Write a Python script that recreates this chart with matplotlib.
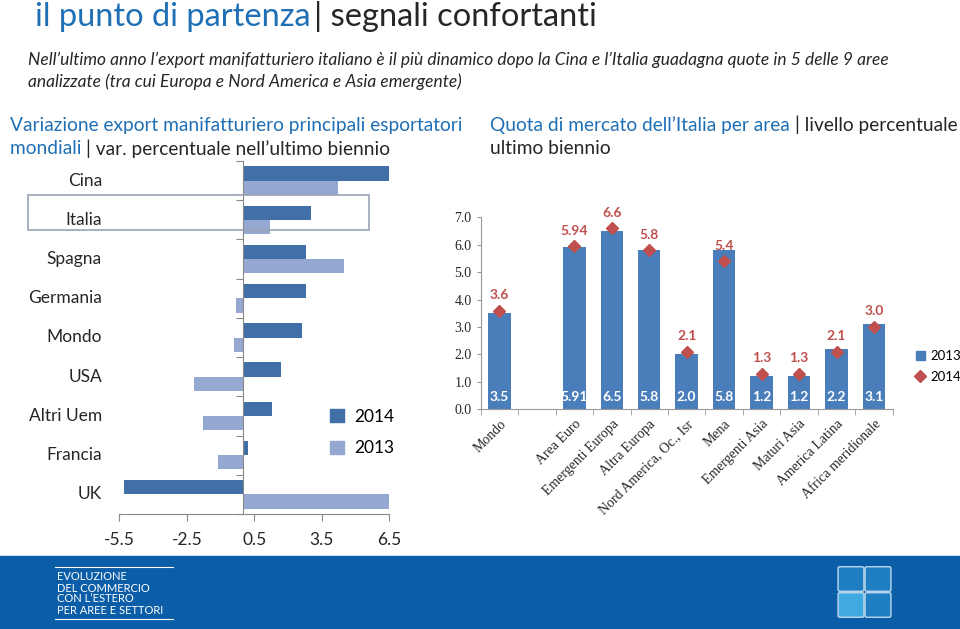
import numpy as np
import matplotlib.pyplot as plt
import matplotlib.patches as patches
from matplotlib.lines import Line2D

# Left chart: variazione export (%)
paesi = ['Cina', 'Italia', 'Spagna', 'Germania', 'Mondo', 'USA', 'Altri Uem', 'Francia', 'UK']
var_2014 = [6.5, 3.0, 2.8, 2.8, 2.6, 1.7, 1.3, 0.2, -5.3]
var_2013 = [4.2, 1.2, 4.5, -0.3, -0.4, -2.2, -1.8, -1.1, 6.5]
x_ticks_left = [-5.5, -2.5, 0.5, 3.5, 6.5]

# Right chart: quota di mercato (%)
aree = ['Mondo', '', 'Area Euro', 'Emergenti Europa', 'Altra Europa',
        'Nord America, Oc., Isr', 'Mena', 'Emergenti Asia', 'Maturi Asia',
        'America Latina', 'Africa meridionale']
quota_2013 = [3.5, None, 5.91, 6.5, 5.8, 2.0, 5.8, 1.2, 1.2, 2.2, 3.1]
quota_2014 = [3.6, None, 5.94, 6.6, 5.8, 2.1, 5.4, 1.3, 1.3, 2.1, 3.0]
lab_2013 = ['3.5', '', '5.91', '6.5', '5.8', '2.0', '5.8', '1.2', '1.2', '2.2', '3.1']
lab_2014 = ['3.6', '', '5.94', '6.6', '5.8', '2.1', '5.4', '1.3', '1.3', '2.1', '3.0']

BLUE_T = '#1F6FB5'
DARK = '#262626'
C14 = '#4170A8'
C13 = '#95A8D2'
RED = '#C0504D'
BAR_R = '#4A7EBB'

plt.rcParams['font.family'] = ['Lato', 'DejaVu Sans']

W, H = 960, 629
fig = plt.figure(figsize=(9.6, 6.29), dpi=100)


def fx(px):
    return px / W


def fy(py):
    return 1 - py / H


# header
t1 = fig.text(fx(35), fy(17), 'il punto di partenza', color=BLUE_T, fontsize=23.5, va='center')
fig.canvas.draw()
bb = t1.get_window_extent()
fig.text(bb.x1 / W + 0.004, fy(17), '| segnali confortanti', color=DARK, fontsize=23.5, va='center')

fig.text(fx(28), fy(60), "Nell\u2019ultimo anno l\u2019export manifatturiero italiano \u00e8 il pi\u00f9 dinamico dopo la Cina e "
         "l\u2019Italia guadagna quote in 5 delle 9 aree", fontsize=12.5, style='italic', color=DARK, va='center')
fig.text(fx(28), fy(82), "analizzate (tra cui Europa e Nord America e Asia emergente)",
         fontsize=12.5, style='italic', color=DARK, va='center')

fig.text(fx(10), fy(125), 'Variazione export manifatturiero principali esportatori',
         color=BLUE_T, fontsize=13.8, va='center')
t2 = fig.text(fx(10), fy(149), 'mondiali ', color=BLUE_T, fontsize=13.8, va='center')
fig.canvas.draw()
bb = t2.get_window_extent()
fig.text(bb.x1 / W, fy(149), "| var. percentuale nell\u2019ultimo biennio", color=DARK, fontsize=13.8, va='center')

t3 = fig.text(fx(490), fy(125), "Quota di mercato dell\u2019Italia per area ", color=BLUE_T, fontsize=13.8, va='center')
fig.canvas.draw()
bb = t3.get_window_extent()
fig.text(bb.x1 / W, fy(125), '| livello percentuale', color=DARK, fontsize=13.8, va='center')
fig.text(fx(490), fy(149), 'ultimo biennio', color=DARK, fontsize=13.8, va='center')

# ---- left chart
axl = fig.add_axes([fx(119.3), fy(514), fx(270), (514 - 161) / H])
y = np.arange(len(paesi))
bh = 0.365
axl.barh(y - bh / 2, var_2014, height=bh, color=C14, label='2014')
axl.barh(y + bh / 2, var_2013, height=bh, color=C13, label='2013')
axl.set_ylim(len(paesi) - 0.5, -0.5)
axl.set_xlim(-5.5, 6.5)
axl.set_xticks(x_ticks_left)
axl.set_xticklabels(['%.1f' % v for v in x_ticks_left], fontsize=12.5, color=DARK)
axl.tick_params(axis='x', length=5, color='#888888', pad=8)
axl.set_yticks(np.arange(len(paesi) + 1) - 0.5)
axl.set_yticklabels([])
axl.tick_params(axis='y', length=5, color='#888888', direction='out')
axl.spines['left'].set_position(('data', 0))
for s in ['top', 'right']:
    axl.spines[s].set_visible(False)
for s in ['left', 'bottom']:
    axl.spines[s].set_color('#888888')
for i, p in enumerate(paesi):
    axl.text(-0.064, i, p, transform=axl.get_yaxis_transform(), ha='right', va='center',
             fontsize=12.5, color=DARK)

# highlight Italia
fig.patches.append(patches.Rectangle((fx(28), fy(230)), fx(341), (230 - 195) / H,
                                     transform=fig.transFigure, fill=False,
                                     edgecolor='#9AA3B5', linewidth=1.2))

hl = [patches.Patch(color=C14), patches.Patch(color=C13)]
fig.legend(hl, ['2014', '2013'], loc='upper left', bbox_to_anchor=(fx(314), fy(393)),
           frameon=False, fontsize=12.5, handlelength=0.8, handleheight=0.8,
           labelspacing=0.9, handletextpad=0.6)

# ---- right chart
axr = fig.add_axes([fx(480.7), fy(409.3), fx(412), 192 / H])
xr = np.arange(len(aree))
idx = [i for i, v in enumerate(quota_2013) if v is not None]
axr.bar([xr[i] for i in idx], [quota_2013[i] for i in idx], width=0.6, color=BAR_R, zorder=2)
axr.plot([xr[i] for i in idx], [quota_2014[i] for i in idx], linestyle='none', marker='D',
         markersize=6.5, color=RED, zorder=3)
for i in idx:
    axr.text(xr[i], 0.45, lab_2013[i], ha='center', va='center', color='white',
             fontsize=10, fontweight='bold', zorder=4)
    axr.text(xr[i], quota_2014[i] + 0.35, lab_2014[i], ha='center', va='bottom', color=RED,
             fontsize=10, fontweight='bold', zorder=4)
axr.set_xlim(-0.5, len(aree) - 0.5)
axr.set_ylim(0, 7)
axr.set_yticks(np.arange(0, 8))
axr.set_yticklabels(['%.1f' % v for v in range(8)], family='Liberation Serif', fontsize=10, color=DARK)
axr.set_xticks(xr)
axr.set_xticklabels(aree, rotation=45, ha='right', rotation_mode='anchor',
                    family='Liberation Serif', fontsize=10, color=DARK)
axr.tick_params(axis='x', length=0, pad=6)
axr.set_xticks(np.arange(len(aree) + 1) - 0.5, minor=True)
axr.tick_params(axis='x', which='minor', length=4, color='#999999')
axr.tick_params(axis='y', length=3, color='#999999')
for s in ['top', 'right']:
    axr.spines[s].set_visible(False)
for s in ['left', 'bottom']:
    axr.spines[s].set_color('#999999')

hr = [patches.Patch(color=BAR_R),
      Line2D([], [], linestyle='none', marker='D', color=RED, markersize=6)]
fig.legend(hr, ['2013', '2014'], loc='upper left', bbox_to_anchor=(fx(904), fy(338)),
           frameon=False, fontsize=9.5, handlelength=0.7, handleheight=0.7,
           labelspacing=0.7, handletextpad=0.4)

# ---- footer
fig.patches.append(patches.Rectangle((0, 0), 1, (629 - 556) / H, transform=fig.transFigure,
                                     color='#0A5DA6', zorder=0))
for yy in [567, 619]:
    fig.lines.append(Line2D([fx(55), fx(173)], [fy(yy), fy(yy)], transform=fig.transFigure,
                            color='white', linewidth=0.8))
for k, line in enumerate(['EVOLUZIONE', 'DEL COMMERCIO', "CON L\u2019ESTERO", 'PER AREE E SETTORI']):
    fig.text(fx(57), fy(577 + k * 11), line, color='white', fontsize=8, va='center')
for (x0, y0, c) in [(840, 568, '#1F7DC2'), (867, 568, '#1F7DC2'), (840, 594, '#3FA9E0'), (867, 594, '#1F7DC2')]:
    fig.patches.append(patches.FancyBboxPatch((fx(x0), fy(y0 + 22)), fx(22), 22 / H,
                                              boxstyle='round,pad=0.002', transform=fig.transFigure,
                                              facecolor=c, edgecolor='#BFD9EE', linewidth=1))

fig.savefig('out.png', dpi=100)
